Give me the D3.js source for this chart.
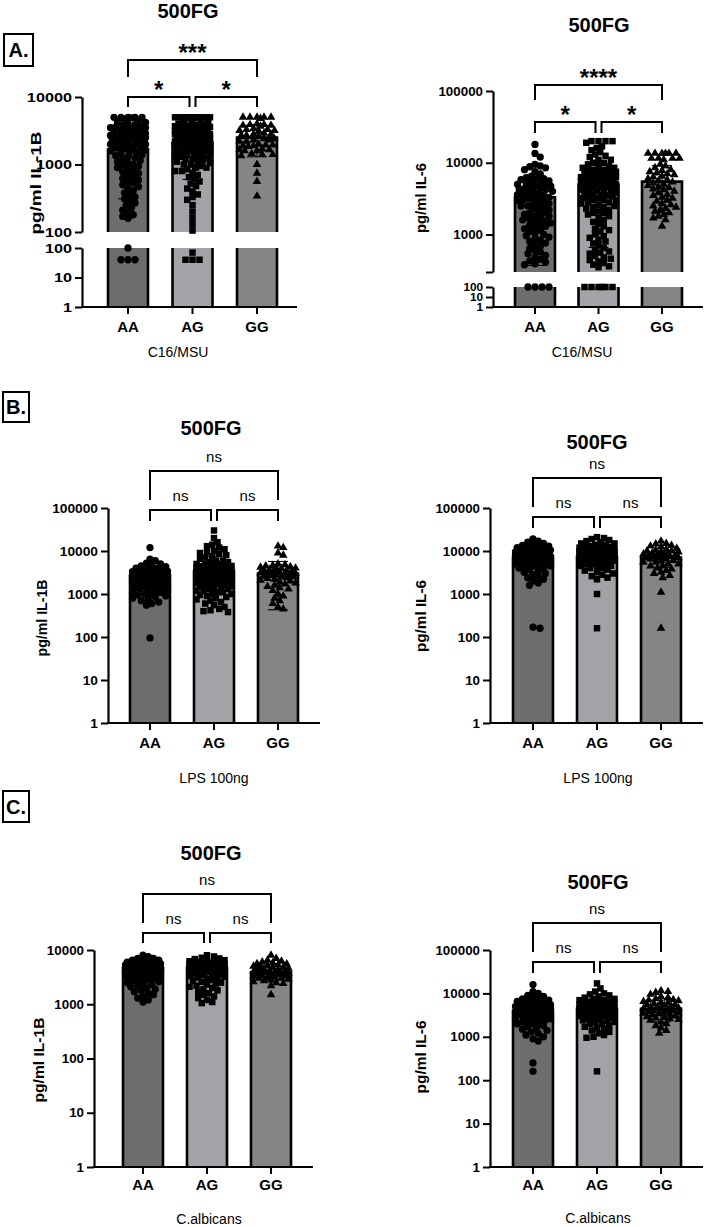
<!DOCTYPE html>
<html><head><meta charset="utf-8">
<script src="https://cdn.jsdelivr.net/npm/d3@7"></script>
<style>body{margin:0;background:#fff}svg{display:block}text{font-family:"Liberation Sans",Arial,Helvetica,sans-serif}</style>
</head><body><svg id="c" width="708" height="1227"></svg>
<script>
const groups = ["AA","AG","GG"];
const barFills = ["#6d6d6d","#a3a3a7","#858585"];
const markerShapes = ["circle","square","triangle"];

// ---------- Panel A left: IL-1B, C16/MSU ----------
const a1AA = [5000,5000,5000,5000,5000,4900,4700,4500,4300,4200,4000,3900,3800,3700,3600,3500,3500,3400,3300,3200,3200,3100,3000,3000,2900,2900,2800,2800,2700,2700,2600,2600,2500,2500,2500,2400,2400,2300,2300,2200,2200,2100,2100,2000,2000,1950,1900,1850,1800,1750,1700,1650,1600,1550,1500,1450,1400,1350,1300,1250,1200,1150,1100,1050,1000,980,940,900,860,820,780,740,700,660,620,590,560,530,500,470,440,410,380,350,330,310,290,270,250,230,210,195,180,170,160,100,40,40,40];
const a1AG = [5000,5000,5000,5000,5000,5000,5000,5000,5000,5000,5000,5000,5000,5000,4800,4600,4400,4200,4100,4000,3900,3900,3800,3800,3700,3600,3600,3500,3500,3400,3400,3300,3300,3200,3200,3100,3100,3000,3000,3000,2900,2900,2800,2800,2800,2700,2700,2600,2600,2600,2500,2500,2500,2400,2400,2400,2300,2300,2300,2200,2200,2200,2100,2100,2100,2000,2000,2000,2000,1900,1900,1900,1800,1800,1800,1700,1700,1700,1600,1600,1600,1550,1500,1500,1450,1400,1400,1350,1300,1300,1250,1200,1200,1150,1100,1100,1050,1000,1000,950,900,900,850,800,800,750,700,650,600,560,520,480,440,400,360,330,300,250,200,160,130,105,70,40,40,40];
const a1GG = [5000,5000,5000,5000,5000,4800,4000,3900,3900,3800,3800,3700,3400,3300,3300,3200,3200,3100,2900,2800,2800,2700,2700,2600,2400,2400,2300,2300,2200,2200,2000,1950,1950,1900,1900,1850,1700,1650,1650,1600,1600,1450,1400,1400,1350,1000,740,560,340];
const a1Mean = [1660, 2100, 2500];
const a1SdLow = [310, 600, 1300];
const a1SdHigh = [3010, 3600, 3900];

// ---------- Panel A right: IL-6, C16/MSU ----------
const a2AA = [18000,13500,12000,9500,9000,8800,8500,8000,7500,7000,6500,6200,6000,6000,5800,5600,5500,5400,5200,5000,5000,4800,4700,4600,4500,4400,4300,4200,4100,4000,3900,3800,3700,3600,3500,3400,3300,3200,3100,3000,3000,2900,2800,2700,2600,2500,2500,2400,2300,2200,2100,2000,2000,1900,1800,1800,1700,1650,1600,1550,1500,1450,1400,1350,1300,1250,1200,1150,1100,1050,1000,960,920,880,840,800,760,720,680,640,600,570,540,510,480,450,430,410,390,380,100,100,100,100];
const a2AG = [20000,20000,20000,20000,19000,17000,16000,15000,14000,13000,12500,12000,11000,11000,10000,10000,9500,9000,9000,8500,8500,8000,8000,8000,7500,7500,7500,7000,7000,7000,7000,6600,6600,6600,6300,6300,6300,6000,6000,6000,6000,5800,5800,5600,5600,5500,5500,5300,5300,5200,5000,5000,5000,4800,4800,4600,4600,4500,4400,4400,4200,4200,4000,4000,4000,3800,3800,3600,3600,3500,3400,3400,3200,3200,3000,3000,3000,2800,2800,2700,2600,2500,2400,2400,2300,2200,2100,2000,2000,1900,1800,1700,1600,1500,1400,1300,1200,1150,1100,1000,950,900,850,800,750,700,650,600,580,560,540,500,480,460,440,420,400,380,360,350,100,100,100,100,100,100];
const a2GG = [13500,13500,13500,13500,13500,13500,11500,11500,11500,11500,11000,9500,9000,8500,8000,7800,7500,7200,7000,6800,6500,6300,6000,5800,5600,5400,5200,5000,4800,4600,4500,4300,4200,4000,3800,3600,3500,3300,3200,3000,2900,2700,2600,2500,2400,2300,2200,2100,2000,1900,1800,1700,1600,1300];
const a2Mean = [3300, 4950, 5450];
const a2SdLow = [370, 660, 2020];
const a2SdHigh = [6200, 9300, 9100];

// ---------- Panel B left: IL-1B, LPS 100ng ----------
const b1AA = [12000,6500,6000,5200,5000,4800,4500,4300,4000,4000,3800,3700,3500,3500,3400,3300,3200,3200,3100,3000,3000,3000,2900,2900,2800,2800,2800,2700,2700,2700,2600,2600,2600,2600,2500,2500,2500,2500,2400,2400,2400,2300,2300,2300,2200,2200,2200,2100,2100,2000,2000,2000,1900,1900,1800,1800,1700,1700,1600,1600,1500,1500,1400,1400,1300,1300,1200,1200,1100,1100,1000,1000,950,900,850,800,750,700,650,600,550,95];
const b1AG = [30000,20000,16000,14000,13000,12000,11000,10000,9500,9000,8500,8000,7500,7000,6500,6000,6000,5500,5500,5000,5000,5000,4800,4600,4500,4500,4400,4200,4200,4000,4000,4000,3900,3800,3800,3700,3600,3600,3600,3500,3500,3500,3400,3400,3400,3300,3300,3300,3200,3200,3200,3100,3100,3100,3000,3000,3000,3000,2900,2900,2900,2800,2800,2800,2700,2700,2700,2600,2600,2600,2500,2500,2500,2400,2400,2400,2300,2300,2300,2200,2200,2100,2100,2000,2000,2000,1900,1900,1800,1800,1700,1700,1600,1600,1500,1500,1400,1400,1300,1300,1200,1200,1100,1100,1000,1000,950,900,850,800,750,700,650,600,550,500,450,420,400,380];
const b1GG = [13000,12000,9000,8000,5000,4800,4600,4500,4300,4200,4000,3900,3800,3700,3600,3500,3400,3300,3200,3100,3000,3000,2900,2800,2800,2700,2600,2500,2500,2400,2300,2200,2100,2000,1900,1800,1700,1600,1500,1400,1300,1200,1000,900,800,700,600,500,450];
const b1Mean = [2700, 3400, 3000];
const b1SdLow = [950, null, 430];
const b1SdHigh = [4450, 7500, 5700];

// ---------- Panel B right: IL-6, LPS 100ng ----------
const b2AA = [19000,17000,16000,15000,14000,13500,13000,12500,12000,12000,11500,11000,11000,10500,10000,10000,10000,9500,9500,9500,9000,9000,9000,9000,8500,8500,8500,8000,8000,8000,8000,7500,7500,7500,7000,7000,7000,7000,6500,6500,6500,6000,6000,6000,6000,5500,5500,5500,5000,5000,5000,4500,4500,4500,4000,4000,3700,3500,3200,3000,2800,2600,2400,2200,2000,1800,1600,170,160];
const b2AG = [21000,20000,19000,18000,17000,16000,15000,15000,14000,14000,13000,13000,12500,12000,12000,11500,11500,11000,11000,11000,10500,10500,10500,10000,10000,10000,10000,9500,9500,9500,9500,9000,9000,9000,9000,9000,8500,8500,8500,8500,8000,8000,8000,8000,8000,7500,7500,7500,7500,7000,7000,7000,7000,6500,6500,6500,6500,6000,6000,6000,6000,5500,5500,5500,5000,5000,5000,4500,4500,4500,4000,4000,3700,3500,3200,3000,2800,2600,2400,2200,1000,160];
const b2GG = [17000,15000,14500,13500,13000,12500,11500,11000,10500,10000,10000,9500,9500,9000,9000,8500,8500,8000,8000,8000,7500,7500,7500,7000,7000,7000,6500,6500,6000,6000,5500,5500,5000,5000,4500,4500,4000,3800,3500,3200,3000,2700,2400,1100,160];
const b2Mean = [7000, 7300, 7000];
const b2SdLow = [4000, 4500, 4200];
const b2SdHigh = [10000, 10500, 10000];

// ---------- Panel C left: IL-1B, C.albicans ----------
const c1AA = [8000,7500,7000,7000,6500,6500,6200,6000,6000,5800,5800,5700,5600,5500,5500,5500,5400,5400,5300,5300,5200,5200,5100,5100,5100,5000,5000,5000,5000,4900,4900,4900,4800,4800,4800,4800,4700,4700,4700,4600,4600,4600,4600,4500,4500,4500,4400,4400,4400,4300,4300,4300,4200,4200,4200,4100,4100,4000,4000,4000,3900,3900,3800,3800,3700,3600,3500,3400,3300,3200,3100,3000,2900,2800,2700,2600,2500,2400,2300,2200,2100,2000,1900,1800,1700,1600,1500,1400,1300,1200,1100];
const c1AG = [8000,7600,7200,7000,6800,6500,6300,6200,6000,6000,5900,5800,5800,5700,5700,5600,5600,5500,5500,5500,5400,5400,5400,5300,5300,5300,5200,5200,5200,5100,5100,5100,5100,5000,5000,5000,5000,4900,4900,4900,4900,4800,4800,4800,4800,4700,4700,4700,4700,4600,4600,4600,4600,4500,4500,4500,4500,4400,4400,4400,4300,4300,4300,4200,4200,4200,4100,4100,4000,4000,4000,3900,3900,3800,3800,3700,3600,3500,3400,3300,3200,3100,3000,2900,2800,2700,2600,2500,2400,2300,2200,2100,2000,1900,1800,1700,1600,1500,1400,1300,1200,1100,1050];
const c1GG = [8000,7000,6500,6200,6000,5800,5600,5500,5300,5200,5000,5000,4800,4700,4600,4500,4400,4300,4200,4100,4000,4000,3900,3800,3700,3700,3600,3500,3500,3400,3300,3300,3200,3100,3000,3000,2900,2800,2700,2600,2500,2400,2200,1500];
const c1Mean = [4600, 4700, 3900];
const c1SdLow = [3000, 3200, 2800];
const c1SdHigh = [6200, 6200, 5000];

// ---------- Panel C right: IL-6, C.albicans ----------
const c2AA = [16000,11000,10000,9000,8500,8000,7500,7000,7000,6500,6500,6000,6000,6000,5500,5500,5500,5000,5000,5000,5000,4700,4700,4700,4500,4500,4500,4300,4300,4300,4000,4000,4000,4000,3800,3800,3800,3600,3600,3600,3400,3400,3400,3200,3200,3200,3000,3000,3000,2800,2800,2600,2600,2400,2400,2200,2200,2000,2000,1800,1700,1600,1500,1400,1300,1200,1100,1000,900,800,250,160];
const c2AG = [17000,13000,11000,10000,9500,9000,8500,8000,7500,7500,7000,7000,6500,6500,6500,6000,6000,6000,6000,5500,5500,5500,5500,5000,5000,5000,5000,5000,4700,4700,4700,4700,4500,4500,4500,4500,4300,4300,4300,4300,4000,4000,4000,4000,4000,3800,3800,3800,3800,3600,3600,3600,3600,3400,3400,3400,3200,3200,3200,3000,3000,3000,2800,2800,2600,2600,2400,2400,2200,2200,2000,2000,1800,1700,1600,1500,1400,1300,1200,1100,1000,950,160];
const c2GG = [11500,11000,10500,9500,8500,8000,7500,7200,7000,6800,6500,6200,6000,5800,5500,5500,5300,5000,5000,4800,4600,4500,4400,4200,4000,4000,3800,3700,3600,3500,3400,3300,3200,3000,2900,2800,2700,2600,2500,2400,2200,2000,1800,1600,1400,1200];
const c2Mean = [4000, 4400, 4400];
const c2SdLow = [2000, 2200, 2200];
const c2SdHigh = [6000, 6600, 7000];

const sigLabelsA1 = ["*", "*", "***"];
const sigLabelsA2 = ["*", "*", "****"];
const sigLabelsNs = ["ns", "ns", "ns"];
const titleText = "500FG";

// ---------- layout ----------
const panels = [
  { pts:[a1AA,a1AG,a1GG], mean:a1Mean, lo:a1SdLow, hi:a1SdHigh, sig:sigLabelsA1, ylab:"pg/ml IL-1B", sub:"C16/MSU",
    ax:82, xe:297, c:[128,257], yb:307,
    segs:[{d:[1,100], r:[307,248], t:[1,10,100]}, {d:[100,10000], r:[232,97], t:[100,1000,10000]}],
    title:[188,18], ylabP:[41,183,103], subP:[178,357], xlabY:332, tsx:1.3,
    br:{top:60, topLeg:17, low:97, lowLeg:10} },
  { pts:[a2AA,a2AG,a2GG], mean:a2Mean, lo:a2SdLow, hi:a2SdHigh, sig:sigLabelsA2, ylab:"pg/ml IL-6", sub:"C16/MSU",
    ax:493, xe:703, c:[535,662], yb:307,
    segs:[{d:[1,100], r:[307,287], t:[1,10,100], fs:11}, {d:[300,100000], r:[272,91], t:[300,1000,10000,100000], hide:[300]}],
    title:[599,32], ylabP:[426,198,70], subP:[582,357], xlabY:332, tsx:1.07,
    br:{top:85, topLeg:15, low:122, lowLeg:11} },
  { pts:[b1AA,b1AG,b1GG], mean:b1Mean, lo:b1SdLow, hi:b1SdHigh, sig:sigLabelsNs, ylab:"pg/ml IL-1B", sub:"LPS 100ng",
    ax:108, xe:320, c:[150,278], yb:723,
    segs:[{d:[1,100000], r:[723,508], t:[1,10,100,1000,10000,100000]}],
    title:[211,435], ylabP:[47,618,77], subP:[214,783], xlabY:748, tsx:1.1,
    br:{top:471, topLeg:29, low:510, lowLeg:11} },
  { pts:[b2AA,b2AG,b2GG], mean:b2Mean, lo:b2SdLow, hi:b2SdHigh, sig:sigLabelsNs, ylab:"pg/ml IL-6", sub:"LPS 100ng",
    ax:490, xe:703, c:[533,661], yb:723,
    segs:[{d:[1,100000], r:[723,508], t:[1,10,100,1000,10000,100000]}],
    title:[597,449], ylabP:[426,616,72], subP:[598,783], xlabY:748, tsx:1.07,
    br:{top:478, topLeg:29, low:517, lowLeg:11} },
  { pts:[c1AA,c1AG,c1GG], mean:c1Mean, lo:c1SdLow, hi:c1SdHigh, sig:sigLabelsNs, ylab:"pg/ml IL-1B", sub:"C.albicans",
    ax:94, xe:313, c:[143,271], yb:1167,
    segs:[{d:[1,10000], r:[1167,950], t:[1,10,100,1000,10000]}],
    title:[211,860], ylabP:[44,1060,85], subP:[209,1224], xlabY:1190, tsx:1.07,
    br:{top:894, topLeg:29, low:933, lowLeg:10} },
  { pts:[c2AA,c2AG,c2GG], mean:c2Mean, lo:c2SdLow, hi:c2SdHigh, sig:sigLabelsNs, ylab:"pg/ml IL-6", sub:"C.albicans",
    ax:490, xe:703, c:[533,661], yb:1167,
    segs:[{d:[1,100000], r:[1167,950], t:[1,10,100,1000,10000,100000]}],
    title:[598,889], ylabP:[426,1057,73], subP:[598,1223], xlabY:1190, tsx:1.07,
    br:{top:923, topLeg:29, low:962, lowLeg:11} }
];

const boxes = [["A.",3,33,31,34],["B.",2,391,28,32],["C.",2,790,28,33]];

const svg = d3.select("#c");
svg.append("rect").attr("width",708).attr("height",1227).attr("fill","#fff");

function swarm(vals, yOf, r, maxHalf) {
  const pts = vals.map(v => ({v, y: yOf(v)})).sort((a,b) => a.y - b.y);
  const placed = [];
  const sep = 1.55*r;
  const need = sep*sep;
  const step = r*0.5;
  const nMax = Math.floor(maxHalf/step);
  for (const p of pts) {
    const near = placed.filter(q => Math.abs(q.y - p.y) < sep);
    let chosen = null, best = -1, bestOff = 0;
    for (let k = 0; k <= 2*nMax; k++) {
      const off = k === 0 ? 0 : (k % 2 ? 1 : -1) * Math.ceil(k/2) * step;
      let m = Infinity;
      for (const q of near) { const dx = q.x - off, dy = q.y - p.y; const dd = dx*dx + dy*dy; if (dd < m) m = dd; }
      if (m >= need) { chosen = off; break; }
      if (m > best) { best = m; bestOff = off; }
    }
    p.x = chosen !== null ? chosen : bestOff;
    placed.push(p);
  }
  return pts;
}

const symCircle = d3.symbol().type(d3.symbolCircle).size(42)();
const symSquare = d3.symbol().type(d3.symbolSquare).size(42)();
const symTri = d3.symbol().type(d3.symbolTriangle).size(32)();
const symPaths = {circle:symCircle, square:symSquare, triangle:symTri};

panels.forEach(P => {
  const g = svg.append("g");
  const xs = d3.scalePoint().domain(groups).range(P.c);
  const segs = P.segs.map(s => ({...s, sc: d3.scaleLog().domain(s.d).range(s.r)}));
  const segOf = v => segs.find(s => v <= s.d[1]) || segs[segs.length-1];
  const yOf = v => segOf(v).sc(v);
  const bw = 40;

  // bars
  groups.forEach((grp, i) => {
    const cx = xs(grp), m = P.mean[i];
    segs.forEach(s => {
      if (m <= s.d[0]) return;
      const top = s.sc(Math.min(m, s.d[1]));
      const bot = s.r[0];
      g.append("rect").attr("x", cx - bw/2).attr("y", top).attr("width", bw).attr("height", bot - top)
        .attr("fill", barFills[i]);
      const ends = m <= s.d[1];
      const path = ends
        ? `M${cx-bw/2},${bot}V${top}H${cx+bw/2}V${bot}`
        : `M${cx-bw/2},${bot}V${top}M${cx+bw/2},${top}V${bot}`;
      g.append("path").attr("d", path).attr("fill","none").attr("stroke","#000").attr("stroke-width",2.6);
    });
  });

  // points
  groups.forEach((grp, i) => {
    const cx = xs(grp);
    const sw = swarm(P.pts[i], yOf, 3.5, 19);
    g.append("g").selectAll("path").data(sw).join("path")
      .attr("d", symPaths[markerShapes[i]])
      .attr("transform", d => `translate(${cx + d.x},${d.y})`)
      .attr("fill", "#000");
  });

  // error bars
  groups.forEach((grp, i) => {
    const cx = xs(grp);
    const lo = P.lo[i], hi = P.hi[i], m = P.mean[i];
    const yTop = yOf(hi);
    const yLo = lo === null ? yOf(m) : yOf(lo);
    g.append("line").attr("x1",cx).attr("x2",cx).attr("y1",yLo).attr("y2",yTop).attr("stroke","#000").attr("stroke-width",1.1);
    g.append("line").attr("x1",cx-10).attr("x2",cx+10).attr("y1",yTop).attr("y2",yTop).attr("stroke","#000").attr("stroke-width",1.1);
    if (lo !== null) g.append("line").attr("x1",cx-10).attr("x2",cx+10).attr("y1",yLo).attr("y2",yLo).attr("stroke","#000").attr("stroke-width",1.1);
  });

  // y axes (one per segment)
  segs.forEach(s => {
    const hide = s.hide || [];
    const ax = d3.axisLeft(s.sc).tickValues(s.t).tickFormat(v => hide.includes(v) ? "" : d3.format("d")(v))
      .tickSize(7).tickSizeOuter(0).tickPadding(3);
    const ag = g.append("g").attr("transform", `translate(${P.ax},0)`).call(ax);
    ag.select(".domain").attr("stroke-width", 2.2);
    ag.selectAll(".tick line").attr("stroke-width", 2);
    ag.selectAll(".tick text").attr("font-size", s.fs || 12.5).attr("font-weight", "bold")
      .attr("font-family", '"Liberation Sans",Arial,sans-serif').attr("fill","#000")
      .attr("x", -10 / P.tsx).attr("transform", `scale(${P.tsx},1)`);
  });

  // x axis
  g.append("line").attr("x1", P.ax - 1).attr("x2", P.xe).attr("y1", P.yb).attr("y2", P.yb)
    .attr("stroke","#000").attr("stroke-width",2.2);
  groups.forEach(grp => {
    const cx = xs(grp);
    g.append("line").attr("x1",cx).attr("x2",cx).attr("y1",P.yb).attr("y2",P.yb+7).attr("stroke","#000").attr("stroke-width",2);
    g.append("text").attr("x",cx).attr("y",P.xlabY).attr("text-anchor","middle")
      .attr("font-size",15).attr("font-weight","bold").text(grp);
  });

  // brackets
  const [c0, c2] = P.c, c1 = xs("AG");
  const b = P.br;
  const brk = (x1, x2, y, leg) => g.append("path")
    .attr("d", `M${x1},${y+leg}V${y}H${x2}V${y+leg}`).attr("fill","none").attr("stroke","#000").attr("stroke-width",2);
  brk(c0, c1-3, b.low, b.lowLeg);
  brk(c1+3, c2, b.low, b.lowLeg);
  brk(c0, c2, b.top, b.topLeg);
  const sigPos = [[(c0+c1-3)/2, b.low], [(c1+3+c2)/2, b.low], [(c0+c2)/2, b.top]];
  sigPos.forEach(([x, y], k) => {
    const lab = P.sig[k];
    const isStar = lab.indexOf("*") >= 0;
    g.append("text").attr("x", x).attr("y", isStar ? y + 1 : y - 9).attr("text-anchor","middle")
      .attr("font-size", isStar ? 24 : 15).attr("font-weight", isStar ? "bold" : "normal")
      .text(lab);
  });

  // title
  g.append("text").attr("x",P.title[0]).attr("y",P.title[1]).attr("text-anchor","middle")
    .attr("font-size",20).attr("font-weight","bold").text(titleText);
  // y label
  g.append("text").attr("transform",`translate(${P.ylabP[0]},${P.ylabP[1]}) rotate(-90)`)
    .attr("text-anchor","middle").attr("font-size",14).attr("font-weight","bold")
    .attr("textLength",P.ylabP[2]).attr("lengthAdjust","spacingAndGlyphs").text(P.ylab);
  // subtitle
  g.append("text").attr("x",P.subP[0]).attr("y",P.subP[1]).attr("text-anchor","middle")
    .attr("font-size",14).text(P.sub);
});

boxes.forEach(([t,x,y,w,h]) => {
  svg.append("rect").attr("x",x+1).attr("y",y+1).attr("width",w-2).attr("height",h-2)
    .attr("fill","none").attr("stroke","#000").attr("stroke-width",2);
  svg.append("text").attr("x",x+w/2).attr("y",y+h/2+7).attr("text-anchor","middle")
    .attr("font-size",20).attr("font-weight","bold").text(t);
});
</script></body></html>
